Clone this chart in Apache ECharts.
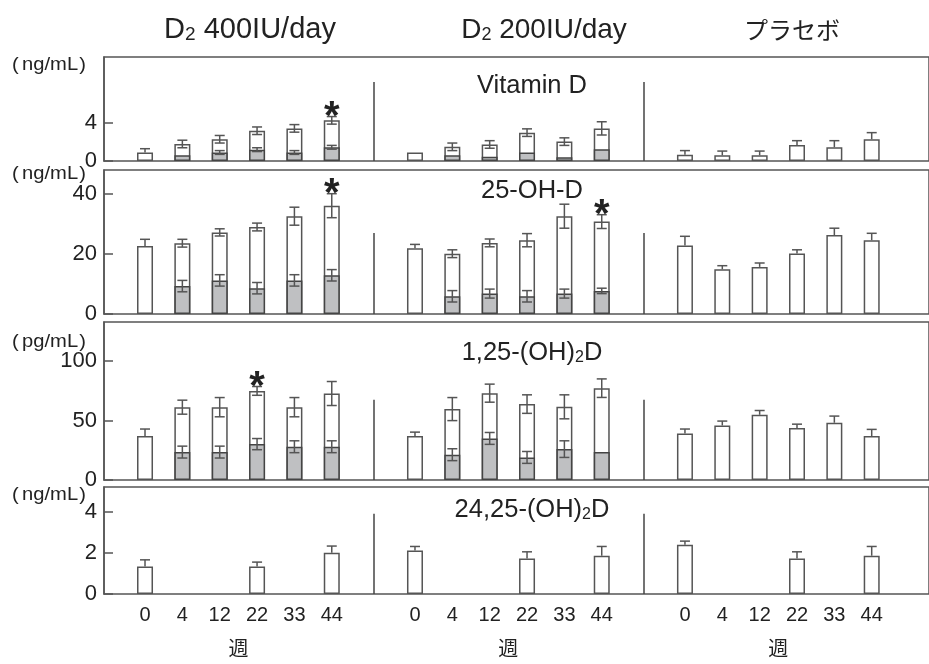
<!DOCTYPE html>
<html>
<head>
<meta charset="utf-8">
<script src="https://cdn.jsdelivr.net/npm/echarts@6/dist/echarts.min.js"></script>
<style>
  html, body { margin: 0; padding: 0; background: #fff; }
  #chart { width: 929px; height: 664px; }
</style>
</head>
<body>
<div id="chart"></div>
<script>
// ---- data ----------------------------------------------------------------
const weeks = ['0', '4', '12', '22', '33', '44'];
const weekUnit = '週';

// Vitamin D (ng/mL): three groups x six weeks; total bar, D2 part (grey), SE
const vitD_total   = [[0.9, 1.8, 2.3, 3.2, 3.45, 4.3], [0.9, 1.5, 1.75, 3.0, 2.05, 3.45], [0.65, 0.6, 0.6, 1.7, 1.45, 2.3]];
const vitD_totalSE = [[0.4, 0.4, 0.4, 0.4, 0.4, 0.4], [null, 0.4, 0.4, 0.4, 0.4, 0.7], [0.45, 0.45, 0.45, 0.45, 0.7, 0.7]];
const vitD_d2      = [[null, 0.6, 0.9, 1.2, 0.9, 1.45], [null, 0.6, 0.45, 0.9, 0.4, 1.25], [null, null, null, null, null, null]];
const vitD_d2SE    = [[null, null, 0.2, 0.2, 0.2, 0.2], [null, null, null, null, null, null], [null, null, null, null, null, null]];
const vitD_stars   = [[0, 5]];

// 25-OH-D (ng/mL)
const oh25_total   = [[22.7, 23.6, 27.2, 29.0, 32.6, 36.1], [21.9, 20.1, 23.7, 24.6, 32.6, 30.8], [22.8, 14.9, 15.7, 20.2, 26.3, 24.6]];
const oh25_totalSE = [[2.2, 1.3, 1.2, 1.3, 3.0, 4.0], [1.3, 1.3, 1.3, 2.2, 4.0, 2.3], [3.1, 1.2, 1.3, 1.2, 2.3, 2.3]];
const oh25_d2      = [[null, 9.3, 11.2, 8.6, 11.2, 12.9], [null, 5.9, 6.8, 5.9, 6.8, 7.7], [null, null, null, null, null, null]];
const oh25_d2SE    = [[null, 1.9, 1.9, 1.9, 1.9, 1.9], [null, 1.9, 1.5, 1.9, 1.5, 0.9], [null, null, null, null, null, null]];
const oh25_stars   = [[0, 5], [1, 5]];

// 1,25-(OH)2D (pg/mL)
const oh125_total   = [[37, 61.3, 61.3, 75, 61.3, 72.8], [37, 59.7, 73.1, 63.9, 61.6, 77.3], [39.2, 45.9, 54.9, 43.7, 48.2, 37]];
const oh125_totalSE = [[5.9, 5.9, 8.1, 3.7, 8.1, 10.1], [3.3, 9.7, 7.6, 7.8, 10.1, 7.8], [3.7, 3.7, 3.6, 3.3, 5.6, 5.6]];
const oh125_d2      = [[null, 23.5, 23.5, 30.2, 28, 28], [null, 21.3, 35, 19, 26, 23.5], [null, null, null, null, null, null]];
const oh125_d2SE    = [[null, 5, 5, 4.7, 5, 5], [null, 5, 5, 5, 7, null], [null, null, null, null, null, null]];
const oh125_stars   = [[0, 3]];

// 24,25-(OH)2D (ng/mL), measured at weeks 0, 22 and 44 only
const oh2425_total   = [[1.34, null, null, 1.34, null, 2.0], [2.12, null, null, 1.73, null, 1.86], [2.39, null, null, 1.73, null, 1.86]];
const oh2425_totalSE = [[0.32, null, null, 0.21, null, 0.33], [0.19, null, null, 0.32, null, 0.45], [0.18, null, null, 0.32, null, 0.45]];
const oh2425_d2      = [[null, null, null, null, null, null], [null, null, null, null, null, null], [null, null, null, null, null, null]];
const oh2425_d2SE    = [[null, null, null, null, null, null], [null, null, null, null, null, null], [null, null, null, null, null, null]];
const oh2425_stars   = [];

// ---- layout ----------------------------------------------------------------
const FONT = '"Liberation Sans", Arial, "Noto Sans CJK JP", sans-serif';
const JP = '"Noto Sans CJK JP", "Liberation Sans", sans-serif';
const INK = '#222';
const LINE = '#555';
const GREY = '#bfc0c2';

const GROUP_STEP = 7.228;          // distance between groups, in bar slots
const xPos = (g, i) => g * GROUP_STEP + i;
const X_MIN = -1.098, X_MAX = 20.99;
const separators = [5 + (GROUP_STEP - 5) / 2, GROUP_STEP + 5 + (GROUP_STEP - 5) / 2];

const panels = [
  { title: ['Vitamin D', '', ''], unit: 'ng/mL', total: vitD_total, totalSE: vitD_totalSE, d2: vitD_d2, d2SE: vitD_d2SE, stars: vitD_stars,
    top: 57, height: 104, yMax: 11, yTicks: [0, 4], sepTop: 8.35, titleY: 83, unitY: 65 },
  { title: ['25-OH-D', '', ''], unit: 'ng/mL', total: oh25_total, totalSE: oh25_totalSE, d2: oh25_d2, d2SE: oh25_d2SE, stars: oh25_stars,
    top: 170, height: 144, yMax: 48, yTicks: [0, 20, 40], sepTop: 27, titleY: 188, unitY: 174 },
  { title: ['1,25-(OH)', '2', 'D'], unit: 'pg/mL', total: oh125_total, totalSE: oh125_totalSE, d2: oh125_d2, d2SE: oh125_d2SE, stars: oh125_stars,
    top: 322, height: 158, yMax: 133, yTicks: [0, 50, 100], sepTop: 67.5, titleY: 350, unitY: 342 },
  { title: ['24,25-(OH)', '2', 'D'], unit: 'ng/mL', total: oh2425_total, totalSE: oh2425_totalSE, d2: oh2425_d2, d2SE: oh2425_d2SE, stars: oh2425_stars,
    top: 487, height: 107, yMax: 5.2, yTicks: [0, 2, 4], sepTop: 3.9, titleY: 507, unitY: 495 }
];

const headers = [
  { parts: ['D', '2', ' 400IU/day'], x: 250, size: 29 },
  { parts: ['D', '2', ' 200IU/day'], x: 544, size: 28 },
  { parts: ['プラセボ', '', ''], x: 792, size: 24, font: JP }
];

// ---- helpers ---------------------------------------------------------------
function barData(values) {
  const out = [];
  values.forEach((row, g) => row.forEach((v, i) => { if (v != null) out.push([xPos(g, i), v]); }));
  return out;
}
// error bar items: position, mean, SE, and whether the whisker goes both ways
function errItems(values, se, symmetric) {
  const out = [];
  values.forEach((row, g) => row.forEach((v, i) => {
    const e = se[g][i];
    if (v != null && e != null) out.push({ x: xPos(g, i), m: v, e: e, sym: symmetric(g, i) });
  }));
  return out;
}
function starData(p) {
  return p.stars.map(([g, i]) => [xPos(g, i), p.total[g][i] + (p.totalSE[g][i] || 0)]);
}
function richText(parts, size, font) {
  const [a, s, b] = parts;
  const f = font || FONT;
  return {
    text: '{m|' + a + '}' + (s ? '{s|' + s + '}' : '') + (b ? '{m|' + b + '}' : ''),
    rich: {
      m: { fontSize: size, fontFamily: f, fill: INK, color: INK, lineHeight: size + 6, verticalAlign: 'bottom' },
      s: { fontSize: Math.round(size * 0.64), fontFamily: f, fill: INK, color: INK, lineHeight: Math.round(size * 0.64), verticalAlign: 'bottom' }
    }
  };
}
function unitText(unit) {
  return {
    text: '{p|(}{t|' + unit + '}{q|)}',
    rich: {
      p: { fontSize: 18, fontFamily: FONT, fill: INK, padding: [0, 3, 0, 0] },
      t: { fontSize: 18, fontFamily: FONT, fill: INK },
      q: { fontSize: 18, fontFamily: FONT, fill: INK, padding: [0, 0, 0, 1] }
    }
  };
}

function makeErrRenderer(items) {
  return function (params, api) {
    const it = items[params.dataIndex];
    const top = api.coord([it.x, it.m + it.e]);
    const bot = api.coord([it.x, it.sym ? it.m - it.e : it.m]);
    const hw = 5;
    const children = [
      { type: 'line', shape: { x1: top[0], y1: top[1], x2: bot[0], y2: bot[1] } },
      { type: 'line', shape: { x1: top[0] - hw, y1: top[1], x2: top[0] + hw, y2: top[1] } }
    ];
    if (it.sym) children.push({ type: 'line', shape: { x1: bot[0] - hw, y1: bot[1], x2: bot[0] + hw, y2: bot[1] } });
    children.forEach(c => { c.style = { stroke: LINE, lineWidth: 1.5 }; });
    return { type: 'group', children };
  };
}
function renderStar(params, api) {
  const pt = api.coord([api.value(0), api.value(1)]);
  return {
    type: 'text', x: pt[0], y: pt[1] + 1,
    style: { text: '*', fontSize: 40, fontWeight: 'bold', fontFamily: FONT, fill: INK, align: 'center', verticalAlign: 'middle' }
  };
}
function errSeries(k, items) {
  return {
    type: 'custom', xAxisIndex: k, yAxisIndex: k, z: 5, clip: false,
    renderItem: makeErrRenderer(items),
    data: items.map(it => [it.x, it.m])
  };
}

// ---- option ----------------------------------------------------------------
const grid = [], xAxis = [], yAxis = [], series = [], graphic = [];

panels.forEach((p, k) => {
  const last = k === panels.length - 1;
  grid.push({ left: 104, right: -10, top: p.top, height: p.height, show: true, borderColor: LINE, borderWidth: 1.5, backgroundColor: 'transparent' });
  xAxis.push({
    gridIndex: k, type: 'value', min: X_MIN, max: X_MAX, show: last,
    axisLine: { show: false, onZero: false }, axisTick: { show: false }, splitLine: { show: false },
    axisLabel: {
      show: last, margin: 11, fontSize: 20, fontFamily: FONT, color: INK,
      customValues: [0, 1, 2].flatMap(g => weeks.map((w, i) => xPos(g, i))),
      formatter: v => weeks[Math.round(((v % GROUP_STEP) + GROUP_STEP) % GROUP_STEP)] || ''
    }
  });
  yAxis.push({
    gridIndex: k, type: 'value', min: 0, max: p.yMax,
    axisLine: { show: true, onZero: false, lineStyle: { color: LINE, width: 1.5 } },
    axisTick: { show: true, inside: true, length: 9, customValues: p.yTicks, lineStyle: { color: LINE, width: 1.5 } },
    axisLabel: { margin: 7, fontSize: 22, fontFamily: FONT, color: INK, customValues: p.yTicks },
    splitLine: { show: false }
  });

  series.push({
    type: 'bar', xAxisIndex: k, yAxisIndex: k, barWidth: 16, barGap: '-100%',
    data: barData(p.total),
    itemStyle: { color: '#fff', borderColor: LINE, borderWidth: 1.5 },
    markLine: {
      silent: true, symbol: 'none', label: { show: false },
      lineStyle: { color: '#444', width: 1.5, type: 'solid' },
      data: separators.map(sx => [{ coord: [sx, p.sepTop] }, { coord: [sx, 0] }])
    }
  });
  series.push({
    type: 'bar', xAxisIndex: k, yAxisIndex: k, barWidth: 16, barGap: '-100%',
    data: barData(p.d2),
    itemStyle: { color: GREY, borderColor: '#444', borderWidth: 1.5 }
  });
  // bars with a D2 component carry a two-sided error bar, the others one-sided
  series.push(errSeries(k, errItems(p.total, p.totalSE, (g, i) => p.d2[g][i] != null)));
  series.push(errSeries(k, errItems(p.d2, p.d2SE, () => true)));
  if (p.stars.length) {
    series.push({ type: 'custom', xAxisIndex: k, yAxisIndex: k, z: 6, renderItem: renderStar, clip: false, data: starData(p) });
  }

  graphic.push({ type: 'text', x: 12, y: p.unitY, scaleX: 1.12, style: Object.assign({ verticalAlign: 'middle' }, unitText(p.unit)) });
  const t = richText(p.title, 25.5);
  graphic.push({ type: 'text', x: 532, y: p.titleY, style: Object.assign({ align: 'center', verticalAlign: 'middle' }, t) });
});

// week unit under each group
xAxis.push({
  gridIndex: panels.length - 1, type: 'value', min: X_MIN, max: X_MAX, position: 'bottom', offset: 33,
  axisLine: { show: false, onZero: false }, axisTick: { show: false }, splitLine: { show: false },
  axisLabel: { margin: 11, fontSize: 20, fontFamily: JP, color: INK, customValues: [0, 1, 2].map(g => xPos(g, 2.5)), formatter: () => weekUnit }
});

headers.forEach(h => {
  const t = richText(h.parts, h.size, h.font);
  graphic.push({ type: 'text', x: h.x, y: 27, style: Object.assign({ align: 'center', verticalAlign: 'middle' }, t) });
});

const chart = echarts.init(document.getElementById('chart'), null, { renderer: 'canvas' });
chart.setOption({ animation: false, backgroundColor: '#fff', grid, xAxis, yAxis, series, graphic });
</script>
</body>
</html>
